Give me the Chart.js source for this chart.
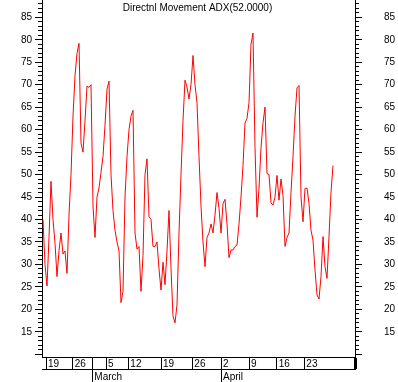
<!DOCTYPE html>
<html>
<head>
<meta charset="utf-8">
<script src="https://cdn.jsdelivr.net/npm/chart.js@4/dist/chart.umd.min.js"></script>
<style>
html,body{margin:0;padding:0;background:#fff;}
canvas{display:block;}
</style>
</head>
<body>
<canvas id="c" width="398" height="382"></canvas>
<script>
const titleText = 'Directnl Movement ADX(52.0000)';

// ADX readings, equally spaced samples from left to right
const adxValues = [
  40, 30, 25.2, 36, 48.5, 40, 34.7, 27.3, 33, 37, 32.3, 33, 28, 41, 50, 63, 72, 77, 79.2, 57,
  55, 62, 69.7, 69.4, 70, 43, 36, 45, 47, 50.5, 54, 61, 69, 70.8, 50,
  42, 37.6, 35, 33, 21.5, 24, 45, 54, 60, 63, 64.3, 37, 33.4, 34, 24, 32, 50, 53.5, 40.6, 40,
  34, 34, 35, 29, 24.3, 30.5, 25.5, 33, 42, 29.1, 18.5, 17, 21, 37, 50, 62, 71,
  69.5, 66.8, 70, 76.5, 70, 66, 54, 43, 35, 29.5, 36, 37, 39, 37, 41, 46, 42.5, 37, 43.5, 44.5,
  39, 31.5, 33.2, 33.2, 34, 34.3, 39, 45, 52, 61.5, 62.5, 66, 79, 81.5, 56,
  40.5, 47, 56, 61.5, 65, 50.2, 50, 43.7, 43.2, 45, 49.8, 44.3, 49, 45.4, 34, 36, 37, 46, 54, 63,
  69.3, 69.8, 45, 39.5, 46.9, 47, 43.6, 37.6, 35.4, 28.8, 23.2, 22.3, 27.3, 36.2, 29.5, 26.9, 36.2, 46.1, 52
];

// date axis (positions in sample units)
const dayTickPos    = [1.5, 14.83, 24.67, 31.5, 42.67, 59, 74.67, 89, 103, 116.83, 130.67, 156];
const dayTickLabels = ['19', '26', '', '5', '12', '19', '26', '2', '9', '16', '23', ''];
const monthTickPos    = [24.67, 89];
const monthTickLabels = ['March', 'April'];

// value axis
const majorTicks = [10, 15, 20, 25, 30, 35, 40, 45, 50, 55, 60, 65, 70, 75, 80, 85];
const hiddenTickLabels = [10];
const minorTicks = [];
for (let v = 10; v <= 88; v++) minorTicks.push(v);

const X_MIN = -0.5, X_MAX = 156;
const Y_MIN = 9.4, Y_MAX = 88.85;

const FONT = { family: "'Liberation Sans', Arial, sans-serif", size: 10, weight: 'normal' };

function fit(size, horiz) {
  return s => {
    if (horiz) s.height = size; else s.width = size;
    s.paddingTop = 0; s.paddingBottom = 0; s.paddingLeft = 0; s.paddingRight = 0;
  };
}
function setTicks(list) {
  return s => { s.ticks = list.map(v => ({ value: v })); };
}

const points = adxValues.map((v, i) => ({ x: i, y: v }));

new Chart(document.getElementById('c'), {
  type: 'line',
  data: {
    datasets: [{
      data: points,
      borderColor: '#ff0000',
      borderWidth: 1,
      pointRadius: 0,
      tension: 0,
      fill: false,
      xAxisID: 'x',
      yAxisID: 'y'
    }]
  },
  options: {
    responsive: false,
    animation: false,
    events: [],
    layout: { autoPadding: false, padding: { left: 0, right: 3, top: 0, bottom: 0 } },
    plugins: {
      legend: { display: false },
      tooltip: { enabled: false },
      title: {
        display: true,
        text: titleText,
        color: '#000',
        font: FONT,
        padding: { top: 2.5, bottom: -14.5 }
      }
    },
    scales: {
      x: {
        type: 'linear', position: 'bottom', min: X_MIN, max: X_MAX, weight: 0,
        afterBuildTicks: setTicks(dayTickPos),
        afterFit: fit(12, true),
        border: { display: true, color: '#000', width: 1 },
        grid: {
          drawOnChartArea: false, drawTicks: true, tickLength: 12, color: '#000',
          tickWidth: ctx => (ctx.index === dayTickPos.length - 1 ? 3 : 1)
        },
        ticks: {
          autoSkip: false, maxRotation: 0, minRotation: 0, align: 'start', labelOffset: 2,
          padding: -11, color: '#000', font: FONT,
          callback: (v, i) => dayTickLabels[i]
        }
      },
      x2: {
        type: 'linear', position: 'bottom', min: X_MIN, max: X_MAX, weight: 1,
        afterBuildTicks: setTicks(monthTickPos),
        afterFit: fit(13, true),
        border: { display: true, color: '#000', width: 1 },
        grid: { drawOnChartArea: false, drawTicks: true, tickLength: 13, color: '#000' },
        ticks: {
          autoSkip: false, maxRotation: 0, minRotation: 0, align: 'start', labelOffset: 2,
          padding: -11, color: '#000', font: FONT,
          callback: (v, i) => monthTickLabels[i]
        }
      },
      y: {
        type: 'linear', position: 'left', min: Y_MIN, max: Y_MAX, weight: 1,
        afterBuildTicks: setTicks(majorTicks),
        afterFit: fit(42, false),
        border: { display: true, color: '#000', width: 1 },
        grid: { drawOnChartArea: false, drawTicks: true, tickLength: 7, color: '#000' },
        ticks: {
          autoSkip: false, padding: 3, color: '#000', font: FONT,
          callback: v => (hiddenTickLabels.includes(v) ? '' : String(v))
        }
      },
      yMinor: {
        type: 'linear', position: 'left', min: Y_MIN, max: Y_MAX, weight: 0,
        afterBuildTicks: setTicks(minorTicks),
        afterFit: fit(0, false),
        border: { display: false },
        grid: { drawOnChartArea: false, drawTicks: true, tickLength: 4, color: '#000' },
        ticks: { display: false, autoSkip: false }
      },
      y2: {
        type: 'linear', position: 'right', min: Y_MIN, max: Y_MAX, weight: 1,
        afterBuildTicks: setTicks(majorTicks),
        afterFit: fit(40, false),
        border: { display: true, color: '#000', width: 1 },
        grid: { drawOnChartArea: false, drawTicks: true, tickLength: 7, color: '#000' },
        ticks: {
          autoSkip: false, padding: 3, crossAlign: 'far', color: '#000', font: FONT,
          callback: v => (hiddenTickLabels.includes(v) ? '' : String(v))
        }
      },
      y2Minor: {
        type: 'linear', position: 'right', min: Y_MIN, max: Y_MAX, weight: 0,
        afterBuildTicks: setTicks(minorTicks),
        afterFit: fit(0, false),
        border: { display: false },
        grid: { drawOnChartArea: false, drawTicks: true, tickLength: 4, color: '#000' },
        ticks: { display: false, autoSkip: false }
      }
    }
  }
});
</script>
</body>
</html>
